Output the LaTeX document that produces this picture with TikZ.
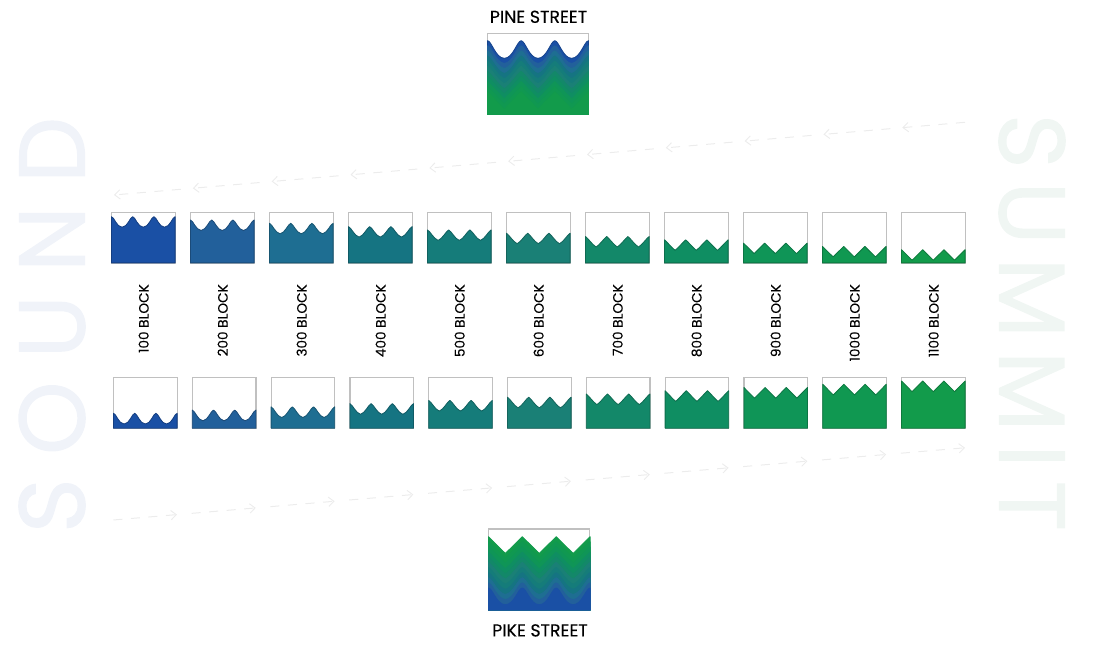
\documentclass[tikz,border=0pt]{standalone}
\usepackage{fontspec}
\setmainfont{Poppins}
\newfontfamily\labelfont[FakeBold=0.25]{Poppins}
\newfontfamily\soundfont[LetterSpace=25,FakeBold=1.2]{Poppins}
\newfontfamily\summitfont[LetterSpace=14,FakeBold=1.2]{Poppins}
\usetikzlibrary{arrows.meta,calc}
\definecolor{c1}{RGB}{26,80,165}
\definecolor{c2}{RGB}{34,96,155}
\definecolor{c3}{RGB}{30,110,146}
\definecolor{c4}{RGB}{21,116,130}
\definecolor{c5}{RGB}{21,124,122}
\definecolor{c6}{RGB}{26,128,118}
\definecolor{c7}{RGB}{19,136,105}
\definecolor{c8}{RGB}{15,142,98}
\definecolor{c9}{RGB}{15,149,87}
\definecolor{c10}{RGB}{16,152,81}
\definecolor{c11}{RGB}{18,155,75}
\definecolor{framegray}{RGB}{192,192,192}
\definecolor{soundcol}{RGB}{240,243,249}
\definecolor{summitcol}{RGB}{240,246,243}
\definecolor{dashcol}{RGB}{236,236,236}
\tikzset{
  x=0.75pt,y=-0.75pt,
  smallframe/.style={draw=framegray,line width=0.9pt,fill=white,inner sep=0pt,outer sep=0pt,anchor=north west,minimum width=47.7pt,minimum height=38.1pt},
  bigframe/.style={draw=framegray,line width=0.9pt,fill=white,inner sep=0pt,outer sep=0pt,anchor=north west,minimum width=75.9pt,minimum height=60.8pt},
  blocklabel/.style={font=\labelfont\fontsize{10.2}{12}\selectfont,text=black,rotate=90,anchor=east,inner sep=0pt},
  streetlabel/.style={font=\labelfont\fontsize{13}{15}\selectfont,text=black,inner sep=0pt},
  flowdash/.style={draw=dashcol,line width=0.75pt,dash pattern=on 6.8pt off 6.4pt,-{Straight Barb[length=4pt,width=7pt,line width=0.7pt]}},
}
% color, x0, period, yedge, amplitude, k, ybottom, stroke
\newcommand{\wavefill}[8]{%
  \pgfmathsetmacro\wca{#3*(#6*0.12+(1-#6)/6)}%
  \pgfmathsetmacro\wcb{#3*(#6*0.26+(1-#6)/6)}%
  \pgfmathsetmacro\wya{#4+(1-#6)*#5/3}%
  \pgfmathsetmacro\wyb{#4+#5-(1-#6)*#5/3}%
  \pgfmathsetmacro\wyt{#4+#5}%
  \pgfmathsetmacro\wxe{#2+3*#3}%
  \path[fill=#1,draw=#8,line width=0.6pt,line join=round] (#2,#7) -- (#2,#4)
    \foreach \n [evaluate=\n as \xp using #2+\n*#3, evaluate=\n as \xt using #2+\n*#3+#3/2, evaluate=\n as \xq using #2+\n*#3+#3] in {0,1,2} {
      .. controls (\xp+\wca,\wya) and (\xt-\wcb,\wyb) .. (\xt,\wyt)
      .. controls (\xt+\wcb,\wyb) and (\xq-\wca,\wya) .. (\xq,#4)
    } -- (\wxe,#7) -- cycle;%
}
\begin{document}
\begin{tikzpicture}
\useasboundingbox (0,0) rectangle (1100,648);
% background words
\node[rotate=90,text=soundcol,inner sep=0pt,font=\soundfont\fontsize{70}{70}\selectfont] (sound) at (52,325) {SOUND};
\node[rotate=-90,text=summitcol,inner sep=0pt,font=\summitfont\fontsize{70}{70}\selectfont] (summit) at (1032,322.5) {SUMMIT};
% dashed flows
\coordinate (topA) at (965,122.3);
\foreach \k in {1,...,11} {
  \pgfmathsetmacro\tx{902.3-78.83*(\k-1)}
  \pgfmathsetmacro\ty{122.3+(965-\tx)*0.0854}
  \coordinate (top\k) at (\tx,\ty);
  \pgfmathsetmacro\bx{177+78.8*(\k-1)}
  \pgfmathsetmacro\by{520-(\bx-113.3)*0.0848}
  \coordinate (bot\k) at (\bx,\by);
}
\coordinate (botA) at (113.3,520);
\draw[flowdash] (topA) -- (top1);
\draw[flowdash] (botA) -- (bot1);
\foreach \k [remember=\k as \p (initially 1)] in {2,...,11} {
  \draw[flowdash] ($(top\p)!9pt!(top\k)$) -- (top\k);
  \draw[flowdash] ($(bot\p)!11pt!(bot\k)$) -- (bot\k);
}
% small panels
\foreach \i in {1,...,11} {
  \pgfmathsetmacro\kk{max(0,1-(\i-1)/8)}
  \pgfmathsetmacro\tl{111.5+79*(\i-1)}
  \pgfmathsetmacro\lbl{int(\i*100)}
  \node[smallframe] (ta\i) at (\tl,212.2) {};
  \pgfmathsetmacro\ye{216.7+3.3*(\i-1)}
  \wavefill{c\i}{\tl}{21.2}{\ye}{10.5}{\kk}{262.9}{c\i!78!black}
  \pgfmathsetmacro\bl{113.5+78.8*(\i-1)}
  \node[smallframe] (tb\i) at (\bl,377.4) {};
  \pgfmathsetmacro\yb{413.3-3.23*(\i-1)}
  \wavefill{c\i}{\bl}{21.2}{\yb}{10.7}{\kk}{428.2}{c\i!78!black}
  \pgfmathsetmacro\lx{143.7+79*(\i-1)}
  \node[blocklabel] (lab\i) at (\lx,284) {\lbl{} BLOCK};
}
% Pine Street
\node[bigframe] (pine) at (487.5,33.4) {};
\foreach \i in {1,...,11} {
  \pgfmathsetmacro\kk{max(0,1-(\i-1)/8)}
  \pgfmathsetmacro\ye{40.7+5.1*(\i-1)}
  \ifnum\i=1
    \wavefill{c\i}{487.5}{33.67}{\ye}{17.6}{\kk}{114.3}{c1!85!black}
  \else
    \wavefill{c\i}{487.5}{33.67}{\ye}{17.6}{\kk}{114.3}{c\i}
  \fi
}
\node[streetlabel] (pinelabel) at (538.5,16.8) {PINE STREET};
% Pike Street
\node[bigframe] (pike) at (488.4,529) {};
\foreach \i in {11,10,...,1} {
  \pgfmathsetmacro\kk{max(0,1-(\i-1)/8)}
  \pgfmathsetmacro\ye{536.7+5.13*(11-\i)}
  \wavefill{c\i}{488.4}{33.9}{\ye}{16.7}{\kk}{610}{c\i}
}
\node[streetlabel] (pikelabel) at (540,630.4) {PIKE STREET};
\end{tikzpicture}
\end{document}
